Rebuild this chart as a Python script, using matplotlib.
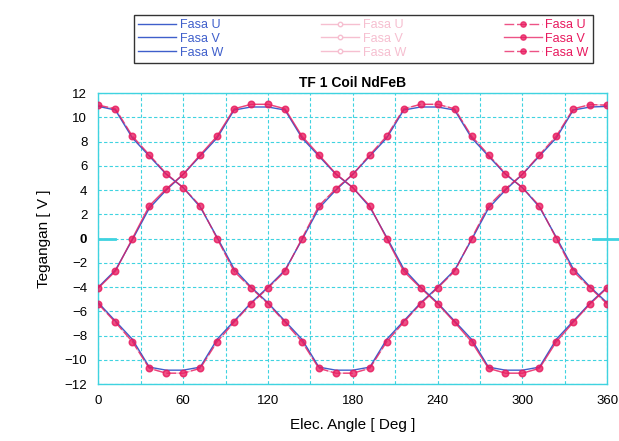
import matplotlib.pyplot as plt

plt.rcParams["font.family"] = ["Liberation Sans", "DejaVu Sans"]

# electrical angle, one sample every 12 deg
angle = [0, 12, 24, 36, 48, 60, 72, 84, 96, 108, 120, 132, 144, 156, 168, 180,
         192, 204, 216, 228, 240, 252, 264, 276, 288, 300, 312, 324, 336, 348, 360]

# measured (red) phase voltages
fasa_u = [11.0, 10.7, 8.45, 6.9, 5.35, 4.2, 2.7, 0.0, -2.7, -4.07, -5.37, -6.9, -8.5, -10.7,
          -11.1, -11.1, -10.7, -8.5, -6.9, -5.37, -4.07, -2.7, 0.0, 2.7, 4.1, 5.3, 6.9,
          8.45, 10.7, 11.05, 11.0]
fasa_v = [-4.07, -2.7, 0.0, 2.7, 4.1, 5.3, 6.9, 8.45, 10.7, 11.07, 11.07, 10.7, 8.45, 6.9,
          5.35, 4.2, 2.7, 0.0, -2.7, -4.07, -5.37, -6.9, -8.5, -10.7, -11.1, -11.1, -10.7,
          -8.5, -6.9, -5.37, -4.07]
fasa_w = [-5.4, -6.9, -8.5, -10.7, -11.1, -11.1, -10.7, -8.5, -6.9, -5.37, -4.07, -2.7, 0.0,
          2.7, 4.1, 5.3, 6.9, 8.45, 10.7, 11.07, 11.07, 10.7, 8.45, 6.9, 5.35, 4.2, 2.7,
          0.0, -2.7, -4.07, -5.4]

# simulated (blue) phase voltages
sim_u = [10.9, 10.6, 8.3, 6.8, 5.3, 4.2, 2.6, 0.1, -2.5, -4.0, -5.3, -6.8, -8.3, -10.6,
         -10.85, -10.85, -10.6, -8.3, -6.8, -5.3, -4.0, -2.6, -0.1, 2.5, 4.0, 5.3, 6.8,
         8.3, 10.6, 10.85, 10.9]
sim_v = [-4.0, -2.6, -0.1, 2.5, 4.0, 5.3, 6.8, 8.3, 10.6, 10.85, 10.85, 10.6, 8.3, 6.8,
         5.3, 4.2, 2.6, 0.1, -2.5, -4.0, -5.3, -6.8, -8.3, -10.6, -10.85, -10.85, -10.6,
         -8.3, -6.8, -5.3, -4.0]
sim_w = [-5.3, -6.8, -8.3, -10.6, -10.85, -10.85, -10.6, -8.3, -6.8, -5.3, -4.0, -2.6, -0.1,
         2.5, 4.0, 5.3, 6.8, 8.3, 10.6, 10.85, 10.85, 10.6, 8.3, 6.8, 5.3, 4.2, 2.6,
         0.1, -2.5, -4.0, -5.3]

labels = ["Fasa U", "Fasa V", "Fasa W"]
x_ticks = [0, 60, 120, 180, 240, 300, 360]
y_ticks = list(range(-12, 13, 2))

blue = "#3f5fcb"
pink = "#f6bfd0"
red = "#e8195e"
cyan = "#3fd3e0"

fig = plt.figure(figsize=(6.19, 4.41), dpi=100)
ax = fig.add_axes([0.159, 0.129, 0.822, 0.66])

handles = []
for ys in (sim_u, sim_v, sim_w):
    h, = ax.plot(angle, ys, color=blue, lw=1.0, zorder=3)
    handles.append(h)
for ys in (fasa_u, fasa_v, fasa_w):
    h, = ax.plot(angle, ys, color=pink, lw=1.0, marker="o", ms=4,
                 mfc="white", mec=pink, zorder=2)
    handles.append(h)
for ys, ls in zip((fasa_u, fasa_v, fasa_w), [(0, (7, 2)), "-", (0, (7, 2))]):
    h, = ax.plot(angle, ys, color=red, lw=1.0, ls=ls, alpha=0.75, marker="o", ms=4.8,
                 mfc=red, mec=red, zorder=4)
    handles.append(h)

# thick zero markers at both ends
ax.plot([0, 12], [0, 0], color=cyan, lw=2, zorder=1)
ax.plot([350, 368], [0, 0], color=cyan, lw=2, zorder=1, clip_on=False)

ax.set_xlim(0, 360)
ax.set_ylim(-12, 12)
ax.set_xticks(x_ticks)
ax.set_yticks(y_ticks)
ax.set_xticks(range(0, 361, 30), minor=True)
ax.tick_params(which="both", length=0, labelsize=9.5, pad=8)
for lab in ax.get_yticklabels():
    if lab.get_text() == "0":
        lab.set_fontweight("bold")
ax.grid(which="both", color=cyan, ls=(0, (3, 2)), lw=0.8)
for s in ax.spines.values():
    s.set_color(cyan)
    s.set_linewidth(1.0)

ax.set_title("TF 1 Coil NdFeB", fontsize=10, fontweight="bold", pad=4)
ax.set_xlabel("Elec. Angle [ Deg ]", fontsize=11, labelpad=8)
ax.set_ylabel("Tegangan [ V ]", fontsize=11, labelpad=10)

leg = fig.legend(handles, labels * 3, ncol=3, mode="expand",
                 bbox_to_anchor=(0.2165, 0.857, 0.7415, 0.12), loc="lower left",
                 fontsize=9, frameon=True, fancybox=False, edgecolor="black",
                 handlelength=3.0, handletextpad=0.3, labelspacing=0.15,
                 borderpad=0.35, borderaxespad=0, markerscale=0.8)
leg.get_frame().set_linewidth(1.0)
for i, t in enumerate(leg.get_texts()):
    t.set_color([blue, pink, red][i // 3])

fig.savefig("out.png", dpi=100)
